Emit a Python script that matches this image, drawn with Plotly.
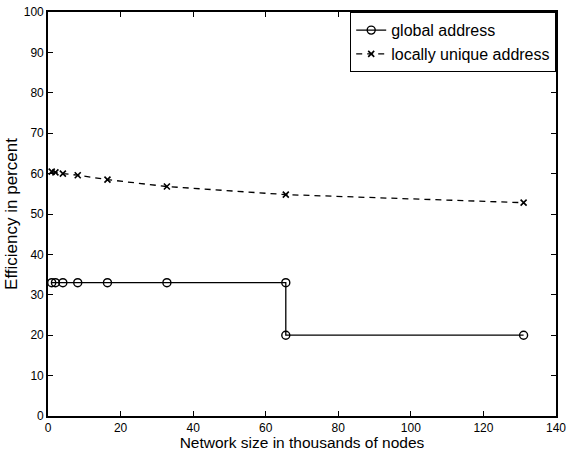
import plotly.graph_objects as go

# Data (network size in thousands of nodes)
global_x = [1.024, 2.048, 4.096, 8.192, 16.384, 32.768, 65.536, 65.536, 131.072]
global_y = [33, 33, 33, 33, 33, 33, 33, 20, 20]

local_x = [1.024, 2.048, 4.096, 8.192, 16.384, 32.768, 65.536, 131.072]
local_y = [60.5, 60.3, 60.0, 59.6, 58.5, 56.8, 54.8, 52.8]

x_ticks = [0, 20, 40, 60, 80, 100, 120, 140]
y_ticks = [0, 10, 20, 30, 40, 50, 60, 70, 80, 90, 100]

FONT = "Liberation Sans, Arial, Helvetica, sans-serif"

fig = go.Figure()
fig.add_trace(go.Scatter(
    x=global_x, y=global_y, mode="lines+markers", name="global address",
    line=dict(color="black", width=1.3),
    marker=dict(symbol="circle-open", size=8, color="black", line=dict(width=1.4)),
))
fig.add_trace(go.Scatter(
    x=local_x, y=local_y, mode="lines+markers", name="locally unique address",
    line=dict(color="black", width=1.3, dash="6px,5px"),
    marker=dict(symbol="x-thin-open", size=6, color="black", line=dict(width=1.6, color="black")),
))

axis_common = dict(
    showgrid=False, zeroline=False, showline=True, linecolor="black", linewidth=1.6,
    mirror="ticks", ticks="inside", ticklen=5, tickcolor="black", tickwidth=1.2,
    tickfont=dict(family=FONT, size=12, color="black"), automargin=False,
)

fig.update_layout(
    width=569, height=451,
    margin=dict(l=48, r=13, t=12, b=35),
    paper_bgcolor="white", plot_bgcolor="white",
    font=dict(family=FONT, color="black"),
    xaxis=dict(range=[0, 140], tickvals=x_ticks, ticklabelstandoff=0,
               title=dict(text="Network size in thousands of nodes", font=dict(family=FONT, size=15.5), standoff=0),
               **axis_common),
    yaxis=dict(range=[0, 100], tickvals=y_ticks,
               title=dict(text="Efficiency in percent", font=dict(family=FONT, size=17), standoff=2),
               **axis_common),
    legend=dict(x=1, y=1, xanchor="right", yanchor="top",
                bgcolor="white", bordercolor="black", borderwidth=1.2,
                font=dict(family=FONT, size=16, color="black"),
                tracegroupgap=0, itemwidth=30),
    showlegend=True,
)

fig.write_html("out.html")
